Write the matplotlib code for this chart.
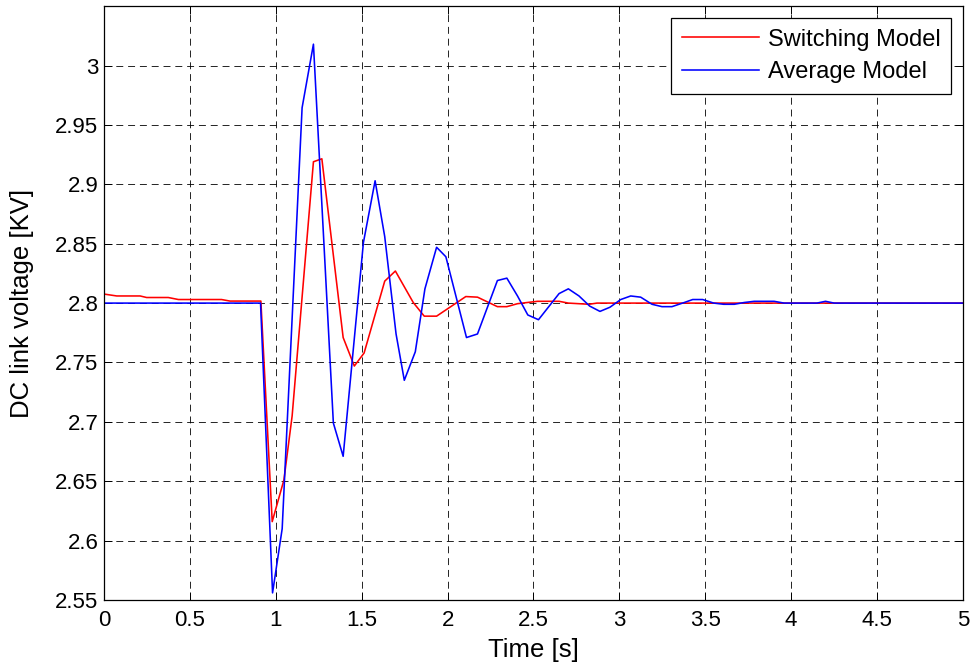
import matplotlib
matplotlib.use("Agg")
import matplotlib.pyplot as plt
import numpy as np

# Switching model response (time in s, voltage in kV)
t_switch = [0, 0.074, 0.21, 0.248, 0.374, 0.433, 0.684, 0.733, 0.913, 0.979,
            1.047, 1.095, 1.219, 1.268, 1.392, 1.457, 1.514, 1.634, 1.696, 1.8,
            1.864, 1.936, 2.106, 2.174, 2.29, 2.345, 2.407, 2.523, 2.649, 2.703,
            2.823, 2.87, 5.0]
v_switch = [2.8076, 2.806, 2.806, 2.8047, 2.8047, 2.803, 2.803, 2.8017, 2.8017, 2.616,
            2.651, 2.705, 2.919, 2.9215, 2.771, 2.747, 2.758, 2.8185, 2.827, 2.8005,
            2.789, 2.789, 2.8055, 2.805, 2.797, 2.797, 2.7995, 2.8015, 2.8015, 2.8,
            2.799, 2.8, 2.8]

# Average model response
t_avg = [0, 0.911, 0.981, 1.037, 1.153, 1.219, 1.335, 1.392, 1.51, 1.578,
         1.634, 1.70, 1.748, 1.812, 1.868, 1.936, 1.99, 2.11, 2.174, 2.29,
         2.345, 2.407, 2.467, 2.529, 2.649, 2.703, 2.765, 2.827, 2.887, 2.945,
         3.008, 3.066, 3.124, 3.19, 3.248, 3.306, 3.378, 3.427, 3.485, 3.549,
         3.607, 3.669, 3.727, 3.785, 3.901, 3.959, 4.15, 4.2, 4.25, 5.0]
v_avg = [2.8, 2.8, 2.556, 2.610, 2.9645, 3.018, 2.699, 2.671, 2.851, 2.903,
         2.856, 2.774, 2.735, 2.759, 2.812, 2.847, 2.839, 2.771, 2.774, 2.819,
         2.821, 2.806, 2.790, 2.786, 2.808, 2.812, 2.806, 2.7975, 2.793, 2.7965,
         2.803, 2.806, 2.805, 2.799, 2.797, 2.797, 2.8005, 2.803, 2.803, 2.8,
         2.799, 2.799, 2.8005, 2.8015, 2.8015, 2.8, 2.8, 2.8015, 2.8, 2.8]

x_ticks = np.arange(0, 5.01, 0.5)
y_ticks = np.arange(2.55, 3.001, 0.05)

plt.rcParams['font.family'] = ['Liberation Sans', 'DejaVu Sans']
plt.rcParams['lines.scale_dashes'] = False

fig = plt.figure(figsize=(9.76, 6.71), dpi=100)
ax = fig.add_axes([0.1066, 0.1058, 0.88, 0.885])

ax.plot(t_switch, v_switch, color='#ff0000', lw=1.15, label='Switching Model')
ax.plot(t_avg, v_avg, color='#0000ff', lw=1.15, label='Average Model')

ax.set_xlim(0, 5)
ax.set_ylim(2.55, 3.05)
ax.set_xticks(x_ticks)
ax.set_xticklabels(['%g' % v for v in x_ticks])
ax.set_yticks(y_ticks)
ax.set_yticklabels(['%g' % round(v, 2) for v in y_ticks])

ax.grid(True, color='black', lw=0.6, linestyle=(0, (5, 3.5)))
ax.tick_params(direction='in', top=True, right=True, length=5.5, width=0.7,
               labelsize=16)
ax.tick_params(axis='x', pad=7)
ax.tick_params(axis='y', pad=4)
for s in ax.spines.values():
    s.set_linewidth(0.9)

ax.set_xlabel('Time [s]', fontsize=18.5, va='top')
ax.xaxis.set_label_coords(0.5, -0.064)
ax.set_ylabel('DC link voltage [KV]', fontsize=18.5, va='center')
ax.yaxis.set_label_coords(-0.095, 0.5)

leg = ax.legend(loc='upper right', fontsize=17, fancybox=False, framealpha=1,
                edgecolor='black', handlelength=3.3, handletextpad=0.35,
                borderaxespad=0.5, labelspacing=0.45, borderpad=0.45)
leg.get_frame().set_linewidth(0.9)

fig.savefig('out.png', dpi=100)
